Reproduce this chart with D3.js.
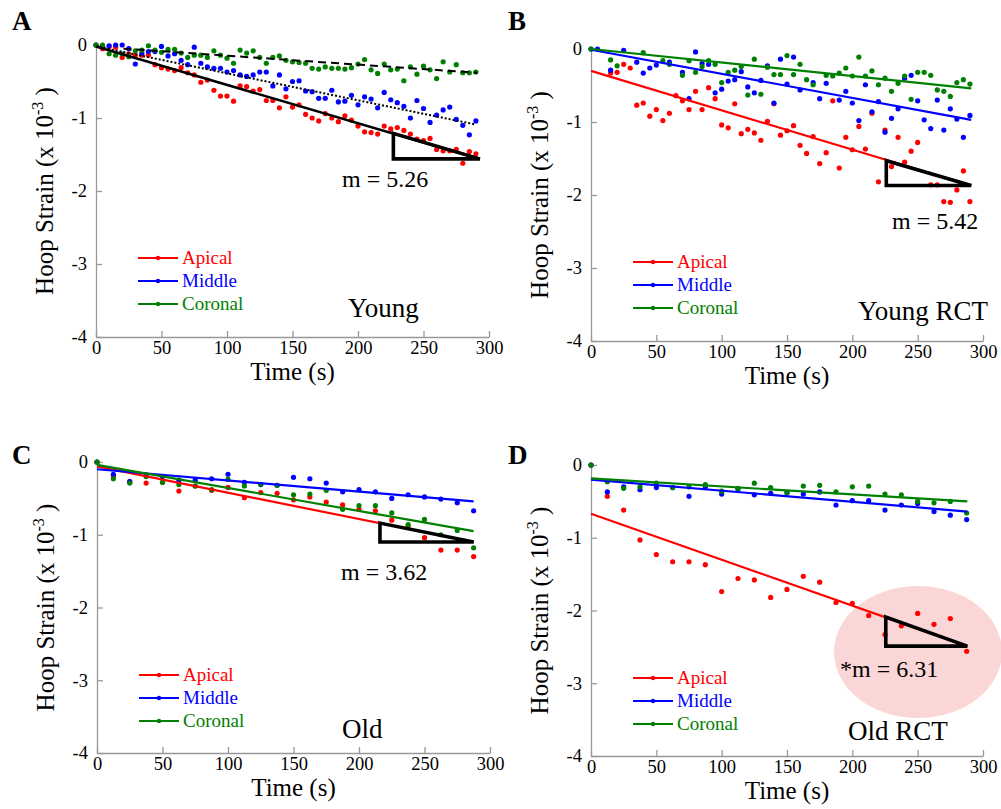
<!DOCTYPE html>
<html>
<head>
<meta charset="utf-8">
<script src="https://cdn.jsdelivr.net/npm/d3@7"></script>
<style>
  body { margin: 0; background: #fff; }
  svg { display: block; font-family: "Liberation Serif", "Times New Roman", serif; }
</style>
</head>
<body>
<svg id="chart" width="1001" height="809"></svg>
<script>
// ---------- data ----------
const timeTicks = [0, 50, 100, 150, 200, 250, 300];
const strainTicks = [0, -1, -2, -3, -4];
const seriesNames = ['Apical', 'Middle', 'Coronal'];
const seriesColors = ['#ff0000', '#0000ff', '#008000'];

// young samples every 5 s
const timesYoung = [0, 5, 10, 15, 20, 25, 30, 35, 40, 45, 50, 55, 60, 65, 70, 75, 80, 85, 90, 95,
  100, 105, 110, 115, 120, 125, 130, 135, 140, 145, 150, 155, 160, 165, 170, 175, 180, 185, 190, 195,
  200, 205, 210, 215, 220, 225, 230, 235, 240, 245, 250, 255, 260, 265, 270, 275, 280, 285, 290];

const youngApical = [0, -0.05, -0.02, -0.03, -0.17, -0.12, -0.14, -0.14, -0.14, -0.27, -0.31, -0.33, -0.35, -0.31, -0.38, -0.41, -0.51, -0.48, -0.62, -0.70,
  -0.70, -0.77, -0.56, -0.57, -0.63, -0.61, -0.76, -0.76, -0.86, -0.71, -0.85, -0.82, -0.95, -1.00, -1.04, -0.94, -1.00, -1.05, -0.97, -1.03,
  -1.11, -1.19, -1.20, -1.22, -1.11, -1.15, -1.13, -1.17, -1.22, -1.29, -1.31, -1.28, -1.43, -1.45, -1.45, -1.43, -1.62, -1.46, -1.49];
const youngMiddle = [0, -0.02, -0.01, 0, 0, -0.05, -0.26, -0.11, -0.09, -0.09, -0.02, -0.15, -0.12, -0.21, -0.27, -0.03, -0.25, -0.30, -0.32, -0.32,
  -0.37, -0.35, -0.41, -0.43, -0.41, -0.37, -0.37, -0.56, -0.41, -0.60, -0.50, -0.49, -0.63, -0.64, -0.73, -0.73, -0.62, -0.78, -0.77, -0.69,
  -0.82, -0.71, -0.74, -0.86, -0.65, -0.75, -0.79, -0.84, -1.00, -0.76, -0.87, -1.06, -0.96, -0.89, -0.85, -1.02, -1.10, -1.23, -1.04];
const youngCoronal = [0, 0, -0.12, -0.14, -0.12, -0.16, -0.08, -0.07, -0.01, -0.07, -0.10, -0.06, -0.06, -0.11, -0.17, -0.14, -0.14, -0.17, -0.08, -0.14,
  -0.18, -0.25, -0.07, -0.11, -0.08, -0.17, -0.25, -0.17, -0.15, -0.21, -0.23, -0.24, -0.25, -0.32, -0.33, -0.30, -0.32, -0.32, -0.33, -0.31,
  -0.26, -0.20, -0.34, -0.39, -0.26, -0.34, -0.33, -0.49, -0.30, -0.40, -0.29, -0.34, -0.46, -0.23, -0.37, -0.27, -0.38, -0.38, -0.37];

const youngRctApical = [null, null, null, -0.33, -0.32, -0.21, -0.26, -0.77, -0.74, -0.92, -0.83, -0.98, -0.88, -0.64, -0.71, -0.83, -0.58, -0.83, -0.53, -0.68,
  -1.04, -1.08, -0.75, -1.16, -1.10, -1.15, -1.25, -0.99, -0.75, -1.18, -1.12, -1.05, -1.32, -1.43, -1.20, -1.57, -1.42, -0.71, -1.63, -1.21,
  -1.38, -1.06, -1.37, -0.88, -1.82, -1.11, -1.61, -1.21, -1.55, -1.40, -1.28, null, -1.86, -1.86, -2.09, -2.10, -1.93, -1.67, -2.09];
const youngRctMiddle = [0, 0, null, -0.29, null, -0.02, null, -0.18, -0.33, -0.26, -0.22, null, -0.18, null, -0.32, -0.68, -0.04, -0.20, -0.21, -0.60,
  -0.55, -0.44, -0.42, -0.31, -0.52, -0.60, -0.43, -0.23, -0.74, -0.14, -0.48, -0.11, -0.56, null, -0.46, -0.68, -0.47, null, -0.70, -0.58,
  -0.74, -0.98, -0.49, -0.86, -0.72, -1.14, -0.95, -0.82, -0.40, -0.36, -0.71, -0.97, -1.09, -0.70, -1.11, -0.82, -0.96, -1.21, -0.91];
const youngRctCoronal = [0, null, null, -0.15, -0.23, null, null, null, -0.05, null, null, -0.16, -0.21, null, -0.36, -0.16, -0.32, -0.24, -0.16, -0.21,
  -0.46, -0.32, -0.29, -0.24, -0.63, -0.14, -0.62, -0.25, -0.35, -0.35, -0.09, -0.35, -0.21, -0.42, -0.49, null, -0.36, -0.37, -0.33, -0.26,
  -0.37, -0.11, -0.37, -0.30, -0.49, -0.40, -0.58, -0.47, -0.37, -0.69, -0.32, -0.32, -0.36, -0.56, -0.58, -0.65, -0.46, -0.42, -0.48];

// old samples every 12.5 s
const timesOld = [0, 12.5, 25, 37.5, 50, 62.5, 75, 87.5, 100, 112.5, 125, 137.5,
  150, 162.5, 175, 187.5, 200, 212.5, 225, 237.5, 250, 262.5, 275, 287.5];

const oldApical = [0, -0.20, -0.27, -0.29, -0.28, -0.40, -0.33, -0.39, -0.35, -0.49, -0.42, -0.43,
  -0.52, -0.48, -0.55, -0.59, -0.65, -0.67, -0.80, -0.88, -1.04, -1.21, -1.21, -1.30];
const oldMiddle = [0, -0.17, -0.27, -0.18, -0.20, -0.25, -0.25, -0.23, -0.17, -0.28, -0.31, -0.32,
  -0.21, -0.23, -0.29, -0.41, -0.38, -0.41, -0.50, -0.45, -0.48, -0.51, -0.56, -0.67];
const oldCoronal = [0, -0.23, -0.29, -0.20, -0.28, -0.31, -0.33, -0.38, -0.24, -0.33, -0.31, -0.32,
  -0.45, -0.44, -0.39, -0.65, -0.60, -0.60, -0.70, -0.86, -0.79, -1.00, -0.94, -1.18];

const oldRctApical = [0, -0.43, -0.62, -1.03, -1.23, -1.33, -1.33, -1.37, -1.74, -1.56, -1.58, -1.82,
  -1.71, -1.53, -1.61, -1.89, -1.90, -2.07, -2.33, -2.21, -2.04, -2.19, -2.11, -2.56];
const oldRctMiddle = [0, -0.37, -0.30, -0.34, -0.31, -0.31, -0.43, -0.30, -0.40, -0.33, -0.41, -0.39,
  -0.38, -0.40, -0.37, -0.55, -0.49, -0.49, -0.62, -0.55, -0.53, -0.64, -0.69, -0.75];
const oldRctCoronal = [0, -0.23, -0.32, -0.30, -0.25, -0.31, -0.30, -0.27, -0.36, -0.32, -0.25, -0.31,
  -0.38, -0.29, -0.28, -0.37, -0.30, -0.29, -0.40, -0.41, -0.50, -0.52, -0.50, -0.66];

// regression lines: [[t start, strain], [t end, strain]] per series
const fitYoung = [[[0, -0.02], [293, -1.56]], [[3, -0.03], [290, -1.09]], [[21, -0.05], [291, -0.38]]];
const fitYoungRct = [[[0, -0.30], [291, -1.87]], [[0, -0.01], [291, -0.97]], [[0, 0], [291, -0.54]]];
const fitOld = [[[0, -0.06], [287.5, -1.10]], [[0, -0.10], [287.5, -0.54]], [[0, -0.04], [287.5, -0.95]]];
const fitOldRct = [[[0, -0.67], [288, -2.49]], [[0, -0.20], [288, -0.64]], [[0, -0.185], [288, -0.50]]];

// slope triangles: [top-left corner, bottom-right corner]
const triYoung = [[227, -1.21], [293, -1.56]];
const triYoungRct = [[226, -1.53], [291, -1.87]];
const triOld = [[216, -0.84], [287.5, -1.10]];
const triOldRct = [[225.6, -2.09], [288, -2.49]];

const slopeLabels = ['m = 5.26', 'm = 5.42', 'm = 3.62', '*m = 6.31'];
const groupLabels = ['Young', 'Young RCT', 'Old', 'Old RCT'];
const panelLetters = ['A', 'B', 'C', 'D'];

// ---------- layout ----------
const panels = [
  { left: 96, top: 45, width: 393, height: 292, letter: [12, 30],
    times: timesYoung, series: [youngApical, youngMiddle, youngCoronal], fit: fitYoung, tri: triYoung,
    slopePos: [246, 142], namePos: [252, 272], blackFits: true },
  { left: 591, top: 49, width: 392, height: 292, letter: [508, 30],
    times: timesYoung, series: [youngRctApical, youngRctMiddle, youngRctCoronal], fit: fitYoungRct, tri: triYoungRct,
    slopePos: [301, 180], namePos: [267, 271] },
  { left: 97, top: 462, width: 393, height: 291, letter: [12, 464],
    times: timesOld, series: [oldApical, oldMiddle, oldCoronal], fit: fitOld, tri: triOld,
    slopePos: [244, 118], namePos: [245, 276] },
  { left: 591, top: 465, width: 392, height: 291, letter: [508, 464],
    times: timesOld, series: [oldRctApical, oldRctMiddle, oldRctCoronal], fit: fitOldRct, tri: triOldRct,
    slopePos: [249, 212], namePos: [257, 275], highlight: { cx: 327, cy: 187, rx: 84, ry: 66 } }
];

const svg = d3.select('#chart');
svg.append('rect').attr('width', 1001).attr('height', 809).attr('fill', '#fff');

// dash pattern for the black regression lines of panel A
const blackDash = [null, '2,2', '8,5'];
const blackWidth = [2.6, 2, 2];

panels.forEach((p, pi) => {
  const g = svg.append('g').attr('transform', `translate(${p.left},${p.top})`);

  const x = d3.scaleLinear().domain([0, 300]).range([0, p.width]);
  const y = d3.scaleLinear().domain([0, -4]).range([0, p.height]);

  // highlight ellipse behind everything
  if (p.highlight) {
    g.append('ellipse')
      .attr('cx', p.highlight.cx).attr('cy', p.highlight.cy)
      .attr('rx', p.highlight.rx).attr('ry', p.highlight.ry)
      .attr('fill', '#fbd6d6');
  }

  // axes
  const xAxis = g.append('g')
    .attr('transform', `translate(0,${p.height})`)
    .call(d3.axisBottom(x).tickValues(timeTicks).tickSizeInner(-6).tickSizeOuter(0).tickPadding(4).tickFormat(d => String(d)));
  const yAxis = g.append('g')
    .call(d3.axisLeft(y).tickValues(strainTicks).tickSizeInner(-6).tickSizeOuter(0).tickPadding(9).tickFormat(d => String(d)));
  [xAxis, yAxis].forEach(a => {
    a.selectAll('path, line').attr('stroke', '#999').attr('stroke-width', 1.3);
    a.selectAll('text').attr('fill', '#000').style('font-size', '18.5px')
      .style('font-family', '"Liberation Serif", "Times New Roman", serif');
  });

  // axis titles
  svg.append('text')
    .attr('x', p.left + p.width / 2).attr('y', p.top + p.height + 43)
    .attr('text-anchor', 'middle').style('font-size', '25px')
    .text('Time (s)');

  const yt = svg.append('text')
    .attr('transform', `translate(${p.left - 43},${p.top + p.height / 2}) rotate(-90)`)
    .attr('text-anchor', 'middle').style('font-size', '25px');
  yt.append('tspan').text('Hoop Strain (x 10');
  yt.append('tspan').attr('dy', -10).style('font-size', '16px').text('-3');
  yt.append('tspan').attr('dy', 10).text(' )');

  // panel letter
  svg.append('text')
    .attr('x', p.letter[0]).attr('y', p.letter[1])
    .style('font-size', '27px').style('font-weight', 'bold')
    .text(panelLetters[pi]);

  // scatter points
  p.series.forEach((vals, si) => {
    const pts = p.times.map((t, i) => ({ t, v: vals[i] })).filter(d => d.v !== null);
    g.append('g').selectAll('circle')
      .data(pts)
      .enter()
      .append('circle')
      .attr('cx', d => x(d.t))
      .attr('cy', d => y(d.v))
      .attr('r', 2.6)
      .attr('fill', seriesColors[si]);
  });

  // regression lines
  const line = d3.line().x(d => x(d[0])).y(d => y(d[1]));
  p.fit.forEach((seg, si) => {
    g.append('path')
      .attr('d', line(seg))
      .attr('fill', 'none')
      .attr('stroke', p.blackFits ? '#000' : seriesColors[si])
      .attr('stroke-width', p.blackFits ? blackWidth[si] : 2.2)
      .attr('stroke-dasharray', p.blackFits ? blackDash[si] : null);
  });

  // slope triangle
  const [a, b] = p.tri;
  g.append('path')
    .attr('d', line([[a[0], a[1]], [a[0], b[1]], [b[0], b[1]], [a[0], a[1]]]) + 'Z')
    .attr('fill', 'none').attr('stroke', '#000').attr('stroke-width', 3.6)
    .attr('stroke-linejoin', 'miter');

  g.append('text')
    .attr('x', p.slopePos[0]).attr('y', p.slopePos[1])
    .style('font-size', '24px')
    .text(slopeLabels[pi]);

  g.append('text')
    .attr('x', p.namePos[0]).attr('y', p.namePos[1])
    .style('font-size', '27px')
    .text(groupLabels[pi]);

  // legend
  const legend = g.append('g');
  seriesNames.forEach((name, si) => {
    const ly = 213 + si * 23;
    legend.append('line')
      .attr('x1', 42).attr('x2', 82).attr('y1', ly).attr('y2', ly)
      .attr('stroke', seriesColors[si]).attr('stroke-width', 2);
    legend.append('circle').attr('cx', 62).attr('cy', ly).attr('r', 2.2).attr('fill', seriesColors[si]);
    legend.append('text')
      .attr('x', 86).attr('y', ly + 6)
      .attr('fill', seriesColors[si]).style('font-size', '19px')
      .text(name);
  });
});
</script>
</body>
</html>
